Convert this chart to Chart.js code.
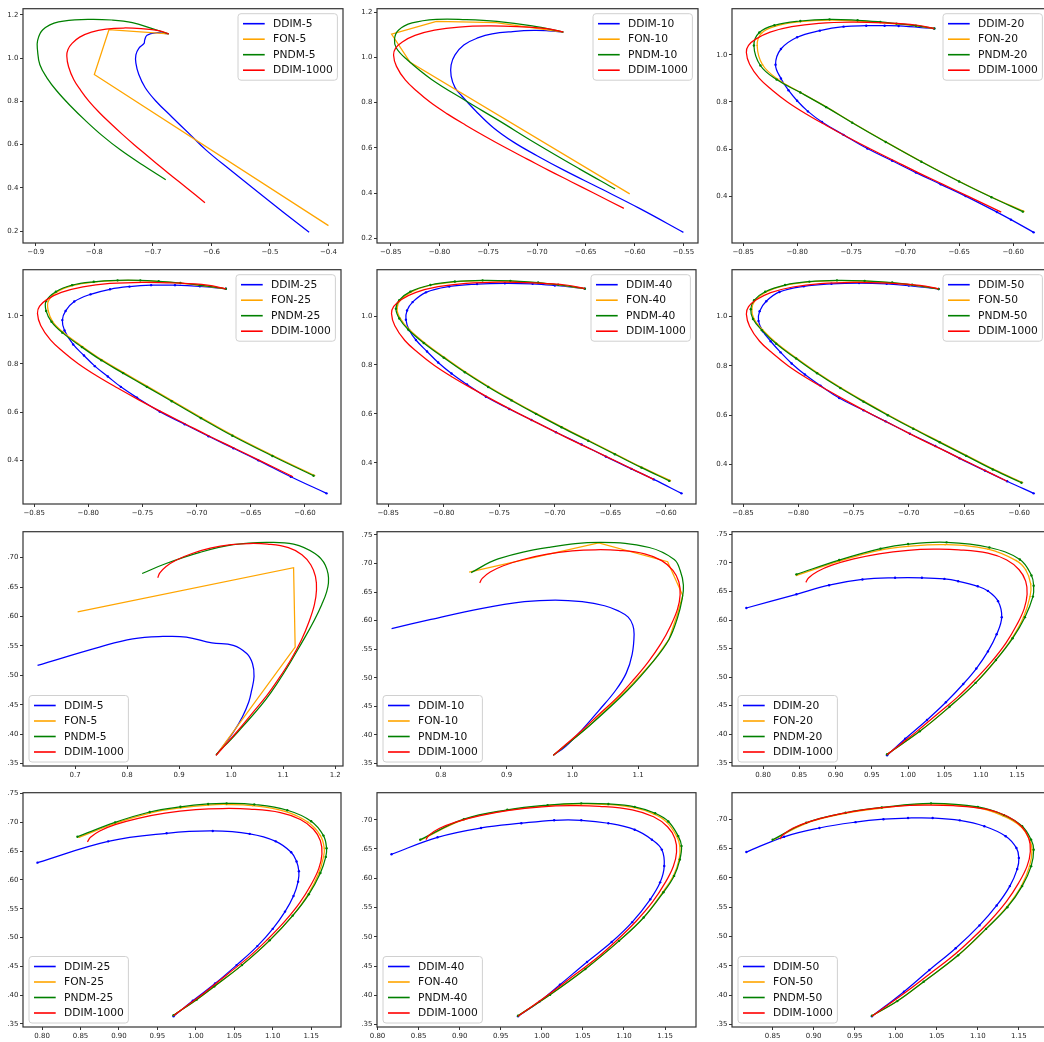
<!DOCTYPE html>
<html>
<head>
<meta charset="utf-8">
<script src="https://cdn.jsdelivr.net/npm/chart.js@4.4.1/dist/chart.umd.min.js"></script>
<style>
html, body { margin: 0; padding: 0; background: #fff; overflow: hidden; width: 1044px; height: 1042px; }
.cell { position: absolute; }
</style>
</head>
<body>
<script>
// ---- data: trajectories as [x, y] points ----
const PANEL_STEPS = [5, 10, 20, 25, 40, 50, 5, 10, 20, 25, 40, 50];
const METHODS = ['DDIM', 'FON', 'PNDM'];
const REF_LABEL = 'DDIM-1000';
const X_STEP = [0.1, 0.05, 0.05, 0.05, 0.05, 0.05, 0.1, 0.1, 0.05, 0.05, 0.05, 0.05];
const Y_STEP = [0.2, 0.2, 0.2, 0.2, 0.2, 0.2, 0.05, 0.05, 0.05, 0.05, 0.05, 0.05];

// top two rows
const TOP_DDIM_1000 = [[-0.673,1.112],[-0.690,1.127],[-0.720,1.136],[-0.750,1.139],[-0.780,1.134],[-0.805,1.120],[-0.825,1.097],[-0.838,1.068],[-0.845,1.040],[-0.847,1.010],[-0.844,0.960],[-0.835,0.900],[-0.823,0.850],[-0.809,0.800],[-0.792,0.750],[-0.773,0.700],[-0.753,0.650],[-0.732,0.600],[-0.710,0.550],[-0.688,0.500],[-0.665,0.450],[-0.642,0.400],[-0.611,0.332]];

const TOP_DDIM_5 = [[-0.673,1.112],[-0.695,1.117],[-0.710,1.106],[-0.714,1.083],[-0.715,1.068],[-0.724,1.045],[-0.729,1.015],[-0.729,0.977],[-0.724,0.924],[-0.713,0.863],[-0.695,0.802],[-0.667,0.727],[-0.638,0.651],[-0.609,0.575],[-0.568,0.484],[-0.519,0.378],[-0.476,0.286],[-0.433,0.195]];
const TOP_FON_5 = [[-0.673,1.112],[-0.775,1.131],[-0.800,0.924],[-0.400,0.226]];
const TOP_PNDM_5 = [[-0.673,1.112],[-0.701,1.136],[-0.735,1.164],[-0.770,1.176],[-0.811,1.179],[-0.861,1.167],[-0.888,1.131],[-0.897,1.080],[-0.897,1.035],[-0.893,0.969],[-0.881,0.909],[-0.864,0.848],[-0.841,0.780],[-0.815,0.711],[-0.787,0.643],[-0.755,0.575],[-0.718,0.507],[-0.678,0.438]];

const TOP_DDIM_10 = [[-0.673,1.112],[-0.688,1.117],[-0.703,1.119],[-0.725,1.114],[-0.746,1.104],[-0.760,1.087],[-0.775,1.055],[-0.784,1.011],[-0.788,0.967],[-0.788,0.917],[-0.784,0.866],[-0.777,0.829],[-0.763,0.764],[-0.745,0.690],[-0.724,0.625],[-0.700,0.565],[-0.672,0.500],[-0.636,0.422],[-0.595,0.332],[-0.550,0.226]];
const TOP_FON_10 = [[-0.673,1.112],[-0.688,1.120],[-0.742,1.153],[-0.803,1.159],[-0.849,1.103],[-0.830,0.978],[-0.605,0.396]];
const TOP_PNDM_10 = [[-0.673,1.112],[-0.705,1.139],[-0.741,1.159],[-0.773,1.167],[-0.803,1.168],[-0.828,1.152],[-0.842,1.120],[-0.846,1.081],[-0.844,1.040],[-0.833,0.989],[-0.808,0.902],[-0.773,0.808],[-0.739,0.720],[-0.701,0.619],[-0.657,0.508],[-0.620,0.418]];

const TOP_DDIM_20 = [[-0.673,1.112],[-0.706,1.123],[-0.719,1.124],[-0.736,1.124],[-0.757,1.120],[-0.779,1.103],[-0.800,1.075],[-0.815,1.025],[-0.820,0.958],[-0.815,0.900],[-0.808,0.850],[-0.800,0.805],[-0.790,0.760],[-0.777,0.715],[-0.757,0.660],[-0.735,0.602],[-0.712,0.550],[-0.690,0.500],[-0.667,0.450],[-0.644,0.400],[-0.615,0.332],[-0.602,0.300],[-0.581,0.246]];
const TOP_FON_20 = [[-0.673,1.112],[-0.690,1.123],[-0.708,1.131],[-0.744,1.144],[-0.770,1.148],[-0.797,1.141],[-0.820,1.122],[-0.833,1.092],[-0.837,1.040],[-0.832,0.958],[-0.818,0.897],[-0.797,0.841],[-0.773,0.779],[-0.749,0.713],[-0.718,0.631],[-0.685,0.547],[-0.650,0.463],[-0.620,0.396],[-0.590,0.335]];
const TOP_PNDM_20 = [[-0.673,1.112],[-0.690,1.124],[-0.708,1.133],[-0.723,1.140],[-0.744,1.147],[-0.770,1.151],[-0.797,1.144],[-0.821,1.126],[-0.835,1.095],[-0.840,1.040],[-0.834,0.955],[-0.819,0.895],[-0.797,0.840],[-0.773,0.778],[-0.749,0.712],[-0.718,0.630],[-0.685,0.546],[-0.650,0.462],[-0.620,0.395],[-0.591,0.334]];

const TOP_DDIM_25 = [[-0.673,1.112],[-0.697,1.122],[-0.720,1.127],[-0.742,1.127],[-0.762,1.121],[-0.780,1.110],[-0.798,1.089],[-0.813,1.059],[-0.821,1.020],[-0.824,0.982],[-0.822,0.939],[-0.814,0.881],[-0.804,0.835],[-0.794,0.791],[-0.782,0.748],[-0.770,0.705],[-0.755,0.660],[-0.734,0.602],[-0.711,0.550],[-0.689,0.500],[-0.666,0.450],[-0.643,0.400],[-0.613,0.332],[-0.580,0.263]];
const TOP_FON_25 = [[-0.673,1.112],[-0.697,1.126],[-0.715,1.135],[-0.735,1.142],[-0.752,1.146],[-0.773,1.146],[-0.795,1.140],[-0.814,1.126],[-0.829,1.099],[-0.837,1.060],[-0.837,1.020],[-0.833,0.976],[-0.823,0.931],[-0.805,0.871],[-0.787,0.816],[-0.767,0.763],[-0.745,0.706],[-0.722,0.646],[-0.695,0.576],[-0.666,0.503],[-0.629,0.419],[-0.591,0.337]];
const TOP_PNDM_25 = [[-0.673,1.112],[-0.697,1.127],[-0.715,1.136],[-0.735,1.143],[-0.752,1.147],[-0.773,1.147],[-0.795,1.141],[-0.815,1.127],[-0.830,1.100],[-0.839,1.061],[-0.839,1.020],[-0.834,0.975],[-0.824,0.930],[-0.806,0.870],[-0.788,0.815],[-0.768,0.762],[-0.746,0.705],[-0.723,0.645],[-0.696,0.575],[-0.667,0.502],[-0.630,0.418],[-0.592,0.336]];

const TOP_DDIM_40 = [[-0.673,1.112],[-0.700,1.125],[-0.720,1.132],[-0.745,1.134],[-0.770,1.131],[-0.795,1.121],[-0.816,1.097],[-0.828,1.057],[-0.833,1.023],[-0.834,0.985],[-0.831,0.942],[-0.825,0.902],[-0.815,0.855],[-0.805,0.810],[-0.793,0.765],[-0.779,0.720],[-0.762,0.670],[-0.741,0.620],[-0.721,0.575],[-0.699,0.525],[-0.676,0.475],[-0.654,0.425],[-0.631,0.375],[-0.611,0.332],[-0.586,0.275]];
const TOP_FON_40 = [[-0.673,1.112],[-0.697,1.127],[-0.715,1.136],[-0.740,1.143],[-0.765,1.145],[-0.790,1.140],[-0.812,1.126],[-0.829,1.099],[-0.839,1.065],[-0.842,1.030],[-0.839,0.990],[-0.831,0.945],[-0.817,0.890],[-0.799,0.830],[-0.780,0.770],[-0.759,0.710],[-0.738,0.655],[-0.716,0.600],[-0.693,0.545],[-0.669,0.490],[-0.645,0.435],[-0.621,0.380],[-0.596,0.327]];
const TOP_PNDM_40 = [[-0.673,1.112],[-0.697,1.128],[-0.715,1.137],[-0.740,1.144],[-0.765,1.146],[-0.790,1.141],[-0.812,1.127],[-0.830,1.100],[-0.840,1.065],[-0.843,1.030],[-0.840,0.990],[-0.832,0.945],[-0.818,0.890],[-0.800,0.830],[-0.781,0.770],[-0.760,0.710],[-0.739,0.655],[-0.717,0.600],[-0.694,0.545],[-0.670,0.490],[-0.646,0.435],[-0.622,0.380],[-0.597,0.326]];

const TOP_DDIM_50 = [[-0.673,1.112],[-0.700,1.126],[-0.720,1.133],[-0.745,1.136],[-0.770,1.133],[-0.795,1.123],[-0.817,1.100],[-0.829,1.062],[-0.835,1.022],[-0.836,0.982],[-0.832,0.940],[-0.825,0.900],[-0.816,0.855],[-0.806,0.810],[-0.794,0.765],[-0.780,0.720],[-0.763,0.670],[-0.741,0.620],[-0.721,0.575],[-0.699,0.525],[-0.676,0.475],[-0.654,0.425],[-0.631,0.375],[-0.611,0.332],[-0.587,0.283]];
const TOP_FON_50 = [[-0.673,1.112],[-0.697,1.128],[-0.715,1.137],[-0.740,1.144],[-0.765,1.146],[-0.790,1.141],[-0.812,1.127],[-0.829,1.100],[-0.839,1.066],[-0.842,1.030],[-0.840,0.990],[-0.832,0.945],[-0.819,0.890],[-0.801,0.830],[-0.782,0.770],[-0.761,0.710],[-0.740,0.655],[-0.718,0.600],[-0.695,0.545],[-0.671,0.490],[-0.647,0.435],[-0.623,0.380],[-0.597,0.327]];
const TOP_PNDM_50 = [[-0.673,1.112],[-0.697,1.129],[-0.715,1.138],[-0.740,1.145],[-0.765,1.147],[-0.790,1.142],[-0.812,1.128],[-0.830,1.101],[-0.840,1.066],[-0.843,1.030],[-0.841,0.990],[-0.833,0.945],[-0.820,0.890],[-0.802,0.830],[-0.783,0.770],[-0.762,0.710],[-0.741,0.655],[-0.719,0.600],[-0.696,0.545],[-0.672,0.490],[-0.648,0.435],[-0.624,0.380],[-0.598,0.326]];

// bottom two rows
const BOT_DDIM_1000 = [[0.971,0.364],[0.990,0.383],[1.012,0.405],[1.040,0.435],[1.068,0.465],[1.092,0.495],[1.115,0.527],[1.135,0.560],[1.150,0.592],[1.160,0.620],[1.164,0.645],[1.162,0.668],[1.153,0.688],[1.136,0.705],[1.110,0.717],[1.070,0.723],[1.035,0.724],[1.000,0.722],[0.960,0.716],[0.925,0.707],[0.895,0.696],[0.875,0.685],[0.863,0.674],[0.859,0.666]];

const BOT_DDIM_5 = [[0.971,0.364],[1.004,0.403],[1.022,0.430],[1.034,0.455],[1.039,0.473],[1.044,0.498],[1.041,0.520],[1.030,0.537],[1.004,0.551],[0.963,0.555],[0.914,0.565],[0.869,0.566],[0.811,0.562],[0.747,0.548],[0.628,0.517]];
const BOT_FON_5 = [[0.971,0.364],[1.123,0.548],[1.120,0.683],[0.705,0.608]];
const BOT_PNDM_5 = [[0.971,0.365],[1.014,0.405],[1.076,0.470],[1.142,0.565],[1.174,0.620],[1.187,0.657],[1.181,0.687],[1.161,0.707],[1.120,0.723],[1.068,0.726],[1.004,0.722],[0.940,0.709],[0.875,0.690],[0.829,0.673]];

const BOT_DDIM_10 = [[0.971,0.364],[0.990,0.380],[1.015,0.409],[1.040,0.442],[1.066,0.478],[1.082,0.508],[1.091,0.541],[1.094,0.576],[1.092,0.592],[1.085,0.606],[1.070,0.617],[1.049,0.626],[1.015,0.633],[0.974,0.636],[0.927,0.633],[0.861,0.621],[0.785,0.602],[0.725,0.586]];
const BOT_FON_10 = [[0.971,0.364],[1.025,0.415],[1.084,0.480],[1.124,0.530],[1.147,0.567],[1.160,0.612],[1.168,0.644],[1.145,0.703],[1.040,0.736],[0.843,0.685]];
const BOT_PNDM_10 = [[0.971,0.364],[1.025,0.415],[1.084,0.478],[1.124,0.530],[1.147,0.567],[1.160,0.605],[1.167,0.637],[1.169,0.662],[1.164,0.688],[1.155,0.707],[1.117,0.728],[1.043,0.737],[0.964,0.728],[0.887,0.708],[0.846,0.684]];

const BOT_DDIM_20 = [[0.971,0.363],[0.996,0.392],[1.026,0.425],[1.052,0.456],[1.076,0.488],[1.094,0.515],[1.110,0.545],[1.122,0.575],[1.129,0.605],[1.124,0.633],[1.110,0.651],[1.096,0.659],[1.069,0.668],[1.050,0.672],[1.019,0.674],[0.982,0.674],[0.937,0.671],[0.891,0.661],[0.846,0.645],[0.777,0.621]];
const BOT_FON_20 = [[0.971,0.365],[1.016,0.405],[1.057,0.448],[1.093,0.490],[1.121,0.530],[1.143,0.568],[1.159,0.605],[1.168,0.641],[1.169,0.663],[1.162,0.688],[1.149,0.704],[1.110,0.724],[1.051,0.732],[1.000,0.729],[0.960,0.722],[0.905,0.703],[0.846,0.678]];
const BOT_PNDM_20 = [[0.971,0.365],[1.016,0.405],[1.057,0.448],[1.093,0.490],[1.121,0.530],[1.144,0.568],[1.161,0.605],[1.172,0.641],[1.173,0.660],[1.170,0.678],[1.154,0.706],[1.112,0.727],[1.053,0.736],[1.000,0.733],[0.962,0.725],[0.905,0.705],[0.846,0.680]];

const BOT_DDIM_25 = [[0.971,0.363],[0.996,0.390],[1.025,0.420],[1.053,0.452],[1.080,0.485],[1.100,0.515],[1.116,0.545],[1.127,0.572],[1.133,0.597],[1.134,0.615],[1.131,0.632],[1.124,0.648],[1.104,0.667],[1.070,0.680],[1.022,0.685],[0.962,0.681],[0.886,0.667],[0.794,0.630]];
const BOT_FON_25 = [[0.971,0.365],[1.001,0.392],[1.024,0.415],[1.060,0.452],[1.096,0.495],[1.126,0.538],[1.146,0.575],[1.160,0.612],[1.166,0.640],[1.167,0.655],[1.162,0.677],[1.146,0.700],[1.116,0.719],[1.074,0.729],[1.040,0.731],[1.016,0.730],[0.980,0.725],[0.940,0.716],[0.895,0.698],[0.848,0.674]];
const BOT_PNDM_25 = [[0.971,0.365],[1.001,0.392],[1.024,0.415],[1.060,0.452],[1.096,0.495],[1.126,0.538],[1.147,0.575],[1.162,0.612],[1.169,0.640],[1.170,0.655],[1.166,0.677],[1.150,0.702],[1.119,0.721],[1.076,0.731],[1.040,0.733],[1.016,0.732],[0.980,0.727],[0.940,0.718],[0.895,0.700],[0.846,0.675]];

const BOT_DDIM_40 = [[0.971,0.364],[0.997,0.389],[1.022,0.418],[1.055,0.457],[1.085,0.491],[1.110,0.525],[1.132,0.564],[1.144,0.593],[1.149,0.621],[1.146,0.649],[1.134,0.666],[1.113,0.683],[1.081,0.694],[1.048,0.699],[1.015,0.699],[0.975,0.694],[0.926,0.686],[0.873,0.670],[0.817,0.641]];
const BOT_FON_40 = [[0.971,0.365],[1.010,0.401],[1.053,0.445],[1.094,0.493],[1.124,0.533],[1.147,0.576],[1.160,0.604],[1.167,0.632],[1.168,0.655],[1.164,0.672],[1.152,0.696],[1.136,0.710],[1.111,0.721],[1.080,0.726],[1.047,0.727],[1.006,0.724],[0.957,0.716],[0.905,0.700],[0.852,0.665]];
const BOT_PNDM_40 = [[0.971,0.365],[1.010,0.401],[1.053,0.445],[1.094,0.493],[1.124,0.533],[1.148,0.576],[1.161,0.604],[1.168,0.632],[1.170,0.655],[1.166,0.672],[1.154,0.697],[1.138,0.711],[1.113,0.722],[1.081,0.727],[1.048,0.728],[1.007,0.725],[0.958,0.717],[0.905,0.701],[0.852,0.666]];

const BOT_DDIM_50 = [[0.971,0.364],[1.010,0.406],[1.041,0.443],[1.073,0.480],[1.102,0.519],[1.123,0.553],[1.139,0.586],[1.148,0.615],[1.150,0.634],[1.147,0.651],[1.134,0.671],[1.108,0.688],[1.078,0.698],[1.045,0.702],[1.015,0.702],[0.985,0.700],[0.951,0.695],[0.907,0.685],[0.864,0.670],[0.818,0.644]];
const BOT_FON_50 = [[0.971,0.365],[1.002,0.390],[1.034,0.423],[1.076,0.468],[1.110,0.513],[1.135,0.550],[1.153,0.586],[1.163,0.620],[1.166,0.648],[1.163,0.665],[1.152,0.688],[1.130,0.706],[1.098,0.720],[1.043,0.726],[0.983,0.719],[0.939,0.710],[0.891,0.693],[0.850,0.664]];
const BOT_PNDM_50 = [[0.971,0.365],[1.002,0.390],[1.034,0.423],[1.076,0.468],[1.110,0.513],[1.136,0.550],[1.154,0.586],[1.165,0.620],[1.168,0.648],[1.165,0.665],[1.154,0.688],[1.132,0.707],[1.100,0.721],[1.043,0.727],[0.983,0.720],[0.939,0.711],[0.891,0.694],[0.850,0.665]];

// ---- table of panels built from the arrays above ----
const PANEL_SERIES = [
  [TOP_DDIM_5, TOP_FON_5, TOP_PNDM_5, TOP_DDIM_1000],
  [TOP_DDIM_10, TOP_FON_10, TOP_PNDM_10, TOP_DDIM_1000],
  [TOP_DDIM_20, TOP_FON_20, TOP_PNDM_20, TOP_DDIM_1000],
  [TOP_DDIM_25, TOP_FON_25, TOP_PNDM_25, TOP_DDIM_1000],
  [TOP_DDIM_40, TOP_FON_40, TOP_PNDM_40, TOP_DDIM_1000],
  [TOP_DDIM_50, TOP_FON_50, TOP_PNDM_50, TOP_DDIM_1000],
  [BOT_DDIM_5, BOT_FON_5, BOT_PNDM_5, BOT_DDIM_1000],
  [BOT_DDIM_10, BOT_FON_10, BOT_PNDM_10, BOT_DDIM_1000],
  [BOT_DDIM_20, BOT_FON_20, BOT_PNDM_20, BOT_DDIM_1000],
  [BOT_DDIM_25, BOT_FON_25, BOT_PNDM_25, BOT_DDIM_1000],
  [BOT_DDIM_40, BOT_FON_40, BOT_PNDM_40, BOT_DDIM_1000],
  [BOT_DDIM_50, BOT_FON_50, BOT_PNDM_50, BOT_DDIM_1000]
];

// ---- layout / style ----
const COLORS = ['#0000ff', '#ffa500', '#008000', '#ff0000'];
const COL_LEFT = [23, 377, 732];
const COL_W = [320, 321, 318];
const ROW_TOP = [6, 267, 529, 790];
const PLOT_H = 237;
const Y_AX_W = 26, X_AX_H = 20, PAD_T = 3, PAD_R = 2;
const TICK_FONT = { family: "'DejaVu Sans'", size: 7 };
const LEG_FONT = "10.7px 'DejaVu Sans'";

Chart.defaults.font.family = "'DejaVu Sans', sans-serif";

function fmt(v, dec, strip) {
  let s = Math.abs(v).toFixed(dec);
  if (strip && s.charAt(0) === '0') s = s.slice(1);
  return (v < -1e-9 ? '\u2212' : '') + s;
}

function range(series, idx) {
  let lo = Infinity, hi = -Infinity;
  series.forEach(s => s.forEach(p => { lo = Math.min(lo, p[idx]); hi = Math.max(hi, p[idx]); }));
  const m = (hi - lo) * 0.05;
  return [lo - m, hi + m];
}

function stepTicks(step) {
  return function (s) {
    const out = [];
    for (let i = Math.ceil(s.min / step - 1e-6); i * step <= s.max + 1e-9; i++) {
      out.push({ value: +(i * step).toFixed(4) });
    }
    s.ticks = out;
  };
}

// matplotlib-like frame (all four spines)
const frame = {
  id: 'frame',
  afterDatasetsDraw(chart) {
    const a = chart.chartArea, ctx = chart.ctx;
    ctx.save();
    ctx.strokeStyle = '#333';
    ctx.lineWidth = 1.2;
    ctx.strokeRect(a.left, a.top, a.right - a.left, a.bottom - a.top);
    ctx.restore();
  }
};

// matplotlib-like legend drawn inside the axes
const mplLegend = {
  id: 'mplLegend',
  afterDraw(chart, args, opts) {
    const ctx = chart.ctx, a = chart.chartArea;
    ctx.save();
    ctx.font = LEG_FONT;
    const textW = Math.max(...opts.labels.map(l => ctx.measureText(l).width));
    const bw = 5 + 21.7 + 8.3 + textW + 4.5, bh = 66.5;
    const bx = opts.loc === 'ur' ? a.right - 5.6 - bw : a.left + 6;
    const by = opts.loc === 'ur' ? a.top + 5 : a.bottom - 4 - bh;
    ctx.beginPath();
    ctx.roundRect(bx, by, bw, bh, 3);
    ctx.fillStyle = 'rgba(255,255,255,0.85)';
    ctx.fill();
    ctx.strokeStyle = '#d0d0d0';
    ctx.lineWidth = 1;
    ctx.stroke();
    opts.labels.forEach((lab, i) => {
      const cy = by + 10 + i * 15.5;
      ctx.beginPath();
      ctx.moveTo(bx + 5, cy);
      ctx.lineTo(bx + 26.7, cy);
      ctx.strokeStyle = opts.colors[i];
      ctx.lineWidth = 1.6;
      ctx.stroke();
      ctx.fillStyle = '#111';
      ctx.textBaseline = 'middle';
      ctx.fillText(lab, bx + 35, cy + 0.5);
    });
    ctx.restore();
  }
};

function makePanel(i) {
  const col = i % 3, row = Math.floor(i / 3);
  const k = PANEL_STEPS[i];
  const series = PANEL_SERIES[i];
  const labels = METHODS.map(m => m + '-' + k).concat([REF_LABEL]);
  const w = COL_W[col];

  const div = document.createElement('div');
  div.className = 'cell';
  div.style.left = (COL_LEFT[col] - Y_AX_W) + 'px';
  div.style.top = (ROW_TOP[row] - PAD_T) + 'px';
  div.style.width = (Y_AX_W + w + PAD_R) + 'px';
  div.style.height = (PAD_T + PLOT_H + X_AX_H) + 'px';
  const cv = document.createElement('canvas');
  div.appendChild(cv);
  document.body.appendChild(div);

  const xr = range(series, 0), yr = range(series, 1);
  const bottom = row >= 2;
  const xDec = X_STEP[i] < 0.1 ? 2 : 1, yDec = Y_STEP[i] < 0.1 ? 2 : 1;
  const dense = k >= 20;

  // draw order: DDIM-1000 on top, then PNDM, FON, DDIM-k
  const datasets = [3, 2, 1, 0].map(j => ({
    label: labels[j],
    data: series[j].map(p => ({ x: p[0], y: p[1] })),
    showLine: true,
    borderColor: COLORS[j],
    backgroundColor: COLORS[j],
    borderWidth: 1.25,
    tension: (j === 1 && k <= 10) ? 0 : 0.4,
    pointRadius: (j === 3 || !dense) ? 0 : (j === 1 ? 0.8 : 1.2),
    pointBorderWidth: 0,
    fill: false
  }));

  const axis = (lo, hi, step, dec, strip, isX) => ({
    type: 'linear',
    min: lo,
    max: hi,
    afterBuildTicks: stepTicks(step),
    afterFit: s => { if (isX) s.height = X_AX_H; else s.width = Y_AX_W; },
    grid: { drawOnChartArea: false, drawTicks: true, tickLength: 3, color: '#333', lineWidth: 1 },
    border: { display: false },
    ticks: {
      autoSkip: false, maxRotation: 0, minRotation: 0, padding: 1.5,
      color: '#262626', font: TICK_FONT,
      callback: v => fmt(v, dec, strip)
    }
  });

  new Chart(cv, {
    type: 'scatter',
    data: { datasets },
    options: {
      responsive: true,
      maintainAspectRatio: false,
      animation: false,
      layout: { padding: { left: 0, top: PAD_T, right: PAD_R, bottom: 0 } },
      plugins: {
        legend: { display: false },
        tooltip: { enabled: false },
        mplLegend: { labels, colors: COLORS, loc: bottom ? 'll' : 'ur' }
      },
      scales: {
        x: axis(xr[0], xr[1], X_STEP[i], xDec, false, true),
        y: axis(yr[0], yr[1], Y_STEP[i], yDec, bottom, false)
      }
    },
    plugins: [frame, mplLegend]
  });
}

for (let i = 0; i < 12; i++) makePanel(i);
</script>
</body>
</html>
